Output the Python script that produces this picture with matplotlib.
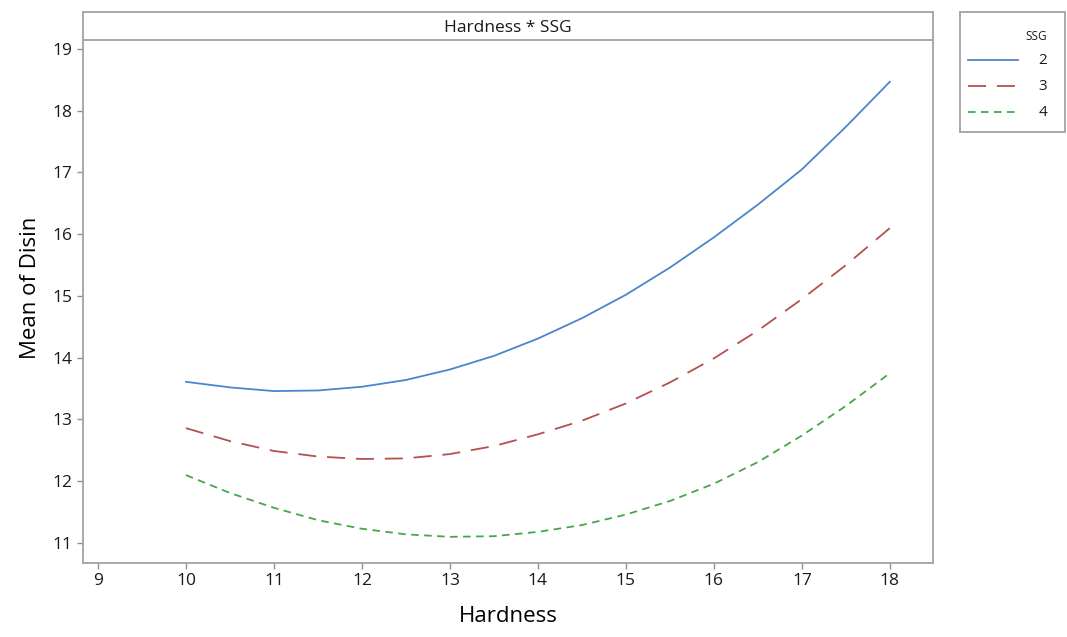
import matplotlib
matplotlib.use("Agg")
import matplotlib.pyplot as plt
from matplotlib.lines import Line2D
from matplotlib.patches import Rectangle

# Fitted means of Disin by Hardness for each SSG level
hardness = [10, 10.5, 11, 11.5, 12, 12.5, 13, 13.5, 14, 14.5, 15, 15.5, 16, 16.5, 17, 17.5, 18]
ssg_levels = ["2", "3", "4"]
disin_ssg2 = [13.61, 13.52, 13.46, 13.47, 13.53, 13.64, 13.81, 14.03, 14.31, 14.64, 15.02,
              15.46, 15.95, 16.48, 17.05, 17.74, 18.47]
disin_ssg3 = [12.86, 12.65, 12.49, 12.40, 12.36, 12.37, 12.44, 12.57, 12.76, 12.98, 13.26,
              13.60, 13.99, 14.44, 14.95, 15.50, 16.10]
disin_ssg4 = [12.10, 11.81, 11.57, 11.37, 11.23, 11.14, 11.10, 11.11, 11.18, 11.29, 11.46,
              11.68, 11.96, 12.31, 12.74, 13.22, 13.75]

x_ticks = list(range(9, 19))
y_ticks = list(range(11, 20))

plt.rcParams['font.family'] = ['Open Sans', 'DejaVu Sans']
plt.rcParams['text.color'] = "#1A1A1A"

W, H = 1067, 637
fig = plt.figure(figsize=(W / 100, H / 100), dpi=100)
ax = fig.add_axes([83 / W, 1 - 563 / H, 850 / W, 551 / H])

colors = ["#4A86CC", "#B5504D", "#45A845"]
dash_styles = ["-", (0, (10, 6)), (0, (4.2, 3))]
series = [disin_ssg2, disin_ssg3, disin_ssg4]

for vals, col, ls, lab in zip(series, colors, dash_styles, ssg_levels):
    ax.plot(hardness, vals, color=col, lw=1.3, linestyle=ls, label=lab)

strip_y = 19.146
ax.set_xlim(8.83, 18.49)
ax.set_ylim(10.676, 19.599)
ax.set_xticks(x_ticks)
ax.set_yticks(y_ticks)
ax.tick_params(labelsize=12.5, color="#909090", labelcolor="#1A1A1A",
               length=4, width=1, direction="out")

for sp in ax.spines.values():
    sp.set_color("#A8A8A8")
    sp.set_linewidth(1.4)

# panel header strip
ax.axhline(strip_y, color="#A8A8A8", lw=1.4)
ax.text(0.5, (strip_y + 19.599) / 2 - 0.03, "Hardness * SSG", transform=ax.get_yaxis_transform(),
        ha="center", va="center", fontsize=12.5)

ax.set_xlabel("Hardness", fontsize=16, labelpad=12)
ax.set_ylabel("Mean of Disin", fontsize=16, labelpad=8)

# legend panel drawn by hand in pixel-sized axes
lax = fig.add_axes([960 / W, 1 - 132 / H, 105 / W, 120 / H])
lax.set_xlim(960, 1065)
lax.set_ylim(132, 12)
lax.axis("off")
lax.add_patch(Rectangle((960, 12), 105, 120, fill=False, edgecolor="#A8A8A8",
                        lw=1.4, clip_on=False))
lax.text(1047, 36, "SSG", ha="right", va="center", fontsize=8.5)
for yy, col, ls, lab in zip([60, 86, 112], colors, dash_styles, ssg_levels):
    lax.add_line(Line2D([968, 1018], [yy, yy], color=col, lw=1.3, linestyle=ls))
    lax.text(1047, yy, lab, ha="right", va="center", fontsize=11)

fig.savefig("out.png", dpi=100)
